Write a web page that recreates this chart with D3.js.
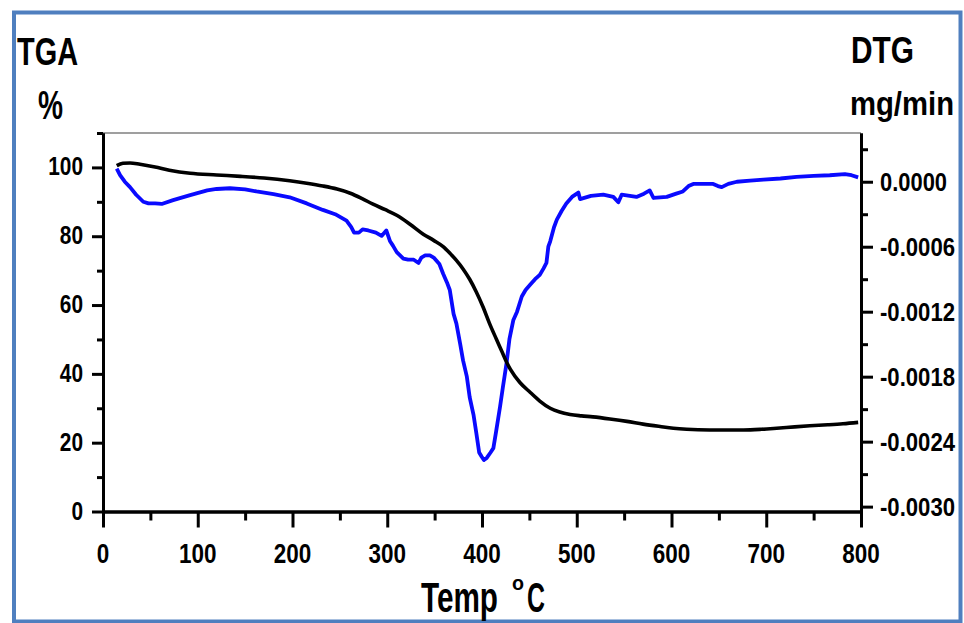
<!DOCTYPE html>
<html>
<head>
<meta charset="utf-8">
<script src="https://cdn.jsdelivr.net/npm/d3@7"></script>
<style>
  html, body { margin: 0; padding: 0; background: #ffffff; }
  svg { display: block; }
  text { font-family: "Liberation Sans Narrow", "Arial Narrow", "Liberation Sans", Arial, sans-serif; font-weight: bold; fill: #000; }
</style>
</head>
<body>
<svg id="chart" width="964" height="623"></svg>
<script>
// ---------------- data ----------------
const tgaTemp = [14.5,21,28.5,39,55,70,92,120,145,170,197,215,232,247,261,273,285,298,310,324,338,349,359,367,373,380,387,394,401,408,415,421,426,430,440,451,461,472,482,493,505,517,535,553,570,588,602,616,640,676,695,711,730,746,765,781,797];
const tgaMass = [100.5,101.2,101.3,100.9,100.1,99.2,98.3,97.8,97.4,96.9,96.1,95.4,94.6,93.7,92.5,91.0,89.3,87.7,86.1,83.5,80.6,78.8,77.0,74.8,73.0,70.5,67.5,63.8,59.5,54.6,50.2,46.5,43.4,41.3,37.5,34.6,32.1,30.0,28.9,28.2,27.8,27.5,26.9,26.2,25.4,24.7,24.2,23.9,23.7,23.7,23.9,24.2,24.6,24.9,25.2,25.5,25.9];

const dtgTemp = [14.5,18,23,28.5,35,42.5,48,55,62,74,92,110,120,134,150,162,180,197,215,232,245,257,262,265,270,274,280,288,294,299,303,306,310,317,322,328,333,336,340,345,349,355,359,363,366,370,373,377,380,384,387,391,394,397,399.7,402,405,409,412,415,419,422,426,429,433,437,442,446,451,456,461,465,468,470,472,476,479,484,489,495,501.7,503.5,515,528,538.6,543.9,547.4,556,563,571,577,581,595,605,612,618,623,633,644,649,653,660,669,683,697,715,732,750,767,783,790,797];
const dtgRate = [0.00012,0.00006,0.0,-0.00005,-0.00012,-0.000185,-0.0002,-0.0002,-0.000205,-0.00017,-0.000123,-0.00008,-0.000067,-0.00006,-0.00007,-0.00009,-0.000115,-0.000144,-0.0002,-0.00026,-0.0003,-0.00036,-0.00042,-0.00047,-0.00047,-0.00044,-0.00045,-0.00047,-0.0005,-0.00045,-0.00055,-0.00059,-0.00065,-0.00071,-0.00072,-0.00072,-0.00075,-0.0007,-0.00068,-0.00068,-0.0007,-0.00076,-0.00085,-0.00093,-0.001,-0.00122,-0.00131,-0.0015,-0.00165,-0.0018,-0.00199,-0.00215,-0.00232,-0.0025,-0.00254,-0.00257,-0.00255,-0.0025,-0.00246,-0.0023,-0.00208,-0.0019,-0.00167,-0.00145,-0.00128,-0.0012,-0.00106,-0.001,-0.00095,-0.0009,-0.00086,-0.0008,-0.00075,-0.0006,-0.00055,-0.00042,-0.00035,-0.00027,-0.0002,-0.00014,-0.0001,-0.00016,-0.00013,-0.00012,-0.00014,-0.00019,-0.00012,-0.00013,-0.00014,-0.00011,-0.00008,-0.00015,-0.00014,-0.00011,-0.00009,-0.00004,-0.00002,-0.00002,-0.00002,-0.00004,-0.00005,-0.00002,0,0.00001,0.00002,0.00003,0.000045,0.000055,0.00006,0.00007,0.00006,0.00004];

const xTicks = [0,100,200,300,400,500,600,700,800];
const xMinorTicks = [50,150,250,350,450,550,650,750];
const leftTicks = [0,20,40,60,80,100];
const leftMinorTicks = [10,30,50,70,90,110];
const rightTicks = [0,-0.0006,-0.0012,-0.0018,-0.0024,-0.0030];
const rightMinorTicks = [0.0003,-0.0003,-0.0009,-0.0015,-0.0021,-0.0027];

// ---------------- scales ----------------
const svg = d3.select("#chart");
const x = d3.scaleLinear().domain([0, 800]).range([103, 861]);
const yL = d3.scaleLinear().domain([0, 110]).range([511.5, 133]);
const yR = d3.scaleLinear().domain([-0.003045, 0.00045]).range([511.5, 133]);

// border frame
svg.append("rect").attr("x", 14).attr("y", 12.5).attr("width", 946.5).attr("height", 609)
  .attr("fill", "none").attr("stroke", "#4f7fbf").attr("stroke-width", 4);

// top frame line (gray)
svg.append("line").attr("x1", x(0)).attr("x2", x(800)).attr("y1", yL(110)).attr("y2", yL(110))
  .attr("stroke", "#7f7f7f").attr("stroke-width", 1.5);

// ---------------- curves ----------------
const tgaData = tgaTemp.map((t, i) => [t, tgaMass[i]]);
const dtgData = dtgTemp.map((t, i) => [t, dtgRate[i]]);

svg.append("path").datum(dtgData)
  .attr("fill", "none").attr("stroke", "#0a0aff").attr("stroke-width", 3.8)
  .attr("stroke-linejoin", "round")
  .attr("d", d3.line().x(d => x(d[0])).y(d => yR(d[1])));

svg.append("path").datum(tgaData)
  .attr("fill", "none").attr("stroke", "#000").attr("stroke-width", 3.6)
  .attr("stroke-linejoin", "round")
  .attr("d", d3.line().curve(d3.curveMonotoneX).x(d => x(d[0])).y(d => yL(d[1])));

// ---------------- axes ----------------
function styleAxis(g, w) {
  g.selectAll("path.domain").attr("stroke", "#000").attr("stroke-width", w);
  g.selectAll(".tick line").attr("stroke", "#000").attr("stroke-width", 3);
  g.selectAll("text").remove();
}
// bottom
svg.append("g").attr("transform", `translate(0,${yL(0)})`)
  .call(d3.axisBottom(x).tickValues(xMinorTicks).tickSize(9).tickSizeOuter(0)).call(g => styleAxis(g, 3));
svg.append("g").attr("transform", `translate(0,${yL(0)})`)
  .call(d3.axisBottom(x).tickValues(xTicks).tickSize(16).tickSizeOuter(0)).call(g => styleAxis(g, 3));
// left
svg.append("g").attr("transform", `translate(${x(0)},0)`)
  .call(d3.axisLeft(yL).tickValues(leftMinorTicks).tickSize(6).tickSizeOuter(0)).call(g => styleAxis(g, 3));
svg.append("g").attr("transform", `translate(${x(0)},0)`)
  .call(d3.axisLeft(yL).tickValues(leftTicks).tickSize(11).tickSizeOuter(0)).call(g => styleAxis(g, 3));
// right
svg.append("g").attr("transform", `translate(${x(800)},0)`)
  .call(d3.axisRight(yR).tickValues(rightMinorTicks).tickSize(7).tickSizeOuter(0)).call(g => styleAxis(g, 3));
svg.append("g").attr("transform", `translate(${x(800)},0)`)
  .call(d3.axisRight(yR).tickValues(rightTicks).tickSize(12).tickSizeOuter(0)).call(g => styleAxis(g, 3));

// ---------------- tick labels ----------------
function widthOf(s, digit, dot, minus) {
  let w = 0;
  for (const c of s) w += (c === ".") ? dot : (c === "-") ? minus : digit;
  return w;
}
svg.append("g").selectAll("text").data(leftTicks).join("text")
  .attr("x", 83).attr("y", d => yL(d) + 8)
  .attr("text-anchor", "end").attr("font-size", 26)
  .attr("textLength", d => widthOf(String(d), 11.6, 5, 7))
  .attr("lengthAdjust", "spacingAndGlyphs")
  .text(d => String(d));

svg.append("g").selectAll("text").data(xTicks).join("text")
  .attr("x", d => x(d)).attr("y", 563)
  .attr("text-anchor", "middle").attr("font-size", 28)
  .attr("textLength", d => widthOf(String(d), 12.5, 5, 7))
  .attr("lengthAdjust", "spacingAndGlyphs")
  .text(d => String(d));

svg.append("g").selectAll("text").data(rightTicks).join("text")
  .attr("x", 880).attr("y", d => yR(d) + 9)
  .attr("text-anchor", "start").attr("font-size", 25)
  .attr("textLength", d => widthOf(d.toFixed(4), 12.2, 6, 8))
  .attr("lengthAdjust", "spacingAndGlyphs")
  .text(d => d.toFixed(4));

// ---------------- titles ----------------
function title(txt, xx, yy, size, len) {
  return svg.append("text").attr("x", xx).attr("y", yy).attr("font-size", size)
    .attr("textLength", len).attr("lengthAdjust", "spacingAndGlyphs").text(txt);
}
title("TGA", 17, 65, 39, 61);
title("%", 38, 119, 40, 25);
title("DTG", 851, 63, 37, 63);
title("mg/min", 850, 115, 33, 104);

title("Temp", 421, 612, 42, 77);
title("o", 512, 590, 21, 12);
title("C", 527, 612, 42, 18);
</script>
</body>
</html>
